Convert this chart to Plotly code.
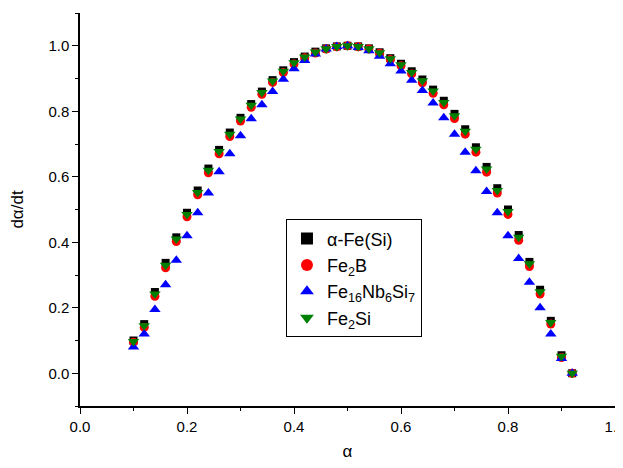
import plotly.graph_objects as go

alpha = [0.10, 0.12, 0.14, 0.16, 0.18, 0.20, 0.22, 0.24, 0.26, 0.28, 0.30, 0.32, 0.34, 0.36,
         0.38, 0.40, 0.42, 0.44, 0.46, 0.48, 0.50, 0.52, 0.54, 0.56, 0.58, 0.60, 0.62, 0.64,
         0.66, 0.68, 0.70, 0.72, 0.74, 0.76, 0.78, 0.80, 0.82, 0.84, 0.86, 0.88, 0.90, 0.92]

fe_si = [0.100, 0.150, 0.248, 0.337, 0.415, 0.490, 0.558, 0.625, 0.682, 0.735, 0.780, 0.822,
         0.860, 0.895, 0.925, 0.950, 0.967, 0.982, 0.992, 0.998, 1.000, 0.998, 0.992, 0.980,
         0.962, 0.945, 0.922, 0.897, 0.866, 0.832, 0.792, 0.745, 0.690, 0.630, 0.565, 0.500,
         0.422, 0.340, 0.255, 0.160, 0.055, 0.000]

fe2b = [0.095, 0.140, 0.235, 0.322, 0.402, 0.478, 0.545, 0.612, 0.670, 0.723, 0.770, 0.812,
        0.852, 0.888, 0.918, 0.944, 0.963, 0.978, 0.990, 0.997, 1.000, 0.997, 0.990, 0.977,
        0.958, 0.939, 0.914, 0.887, 0.855, 0.820, 0.778, 0.730, 0.675, 0.614, 0.550, 0.485,
        0.406, 0.326, 0.242, 0.150, 0.048, 0.000]

fe16nb6si7 = [0.080, 0.120, 0.195, 0.270, 0.345, 0.420, 0.490, 0.550, 0.615, 0.670, 0.725, 0.777,
              0.820, 0.860, 0.898, 0.930, 0.955, 0.975, 0.990, 0.998, 1.000, 0.995, 0.985, 0.968,
              0.945, 0.923, 0.895, 0.863, 0.825, 0.780, 0.730, 0.675, 0.618, 0.555, 0.490, 0.420,
              0.350, 0.278, 0.200, 0.120, 0.045, 0.000]

fe2si = [0.097, 0.145, 0.242, 0.330, 0.410, 0.485, 0.552, 0.620, 0.677, 0.730, 0.776, 0.818,
         0.857, 0.892, 0.922, 0.948, 0.966, 0.981, 0.991, 0.998, 1.000, 0.998, 0.991, 0.979,
         0.960, 0.942, 0.918, 0.893, 0.862, 0.827, 0.786, 0.739, 0.684, 0.624, 0.558, 0.494,
         0.415, 0.334, 0.249, 0.155, 0.052, 0.000]

font = "Liberation Sans, Arial, sans-serif"

fig = go.Figure()
fig.add_trace(go.Scatter(x=alpha, y=fe_si, mode="markers", name="α-Fe(Si)",
                         marker=dict(symbol="square", size=8, color="black")))
fig.add_trace(go.Scatter(x=alpha, y=fe2b, mode="markers", name="Fe<sub>2</sub>B",
                         marker=dict(symbol="circle", size=9, color="#ff0000")))
fig.add_trace(go.Scatter(x=alpha, y=fe16nb6si7, mode="markers",
                         name="Fe<sub>16</sub>Nb<sub>6</sub>Si<sub>7</sub>",
                         marker=dict(symbol="triangle-up", size=10, color="#0000ff")))
fig.add_trace(go.Scatter(x=alpha, y=fe2si, mode="markers", name="Fe<sub>2</sub>Si",
                         marker=dict(symbol="triangle-down", size=10, color="#008000")))

axis_common = dict(
    showline=True, linecolor="black", linewidth=1.5, mirror=False,
    showgrid=False, zeroline=False, automargin=False,
    ticks="outside", ticklen=6, tickwidth=1.2, tickcolor="black",
    ticklabeloverflow="allow",
    tickfont=dict(family=font, size=15, color="black"),
    minor=dict(ticks="outside", ticklen=3, tickwidth=1.2, tickcolor="black", dtick=0.1, showgrid=False),
)

fig.update_xaxes(range=[0, 1.0], dtick=0.2, tickformat=".1f",
                 title=dict(text="α", font=dict(family=font, size=17, color="black"), standoff=11),
                 **axis_common)
fig.update_yaxes(range=[-0.1, 1.1], dtick=0.2, tick0=0, tickformat=".1f",
                 title=dict(text="dα/dt", font=dict(family=font, size=17, color="black"), standoff=22),
                 **axis_common)

fig.update_layout(
    width=615, height=460,
    margin=dict(l=72, r=8, t=5, b=62),
    plot_bgcolor="white", paper_bgcolor="white",
    font=dict(family=font, size=16, color="black"),
    legend=dict(x=0.385, y=0.475, xanchor="left", yanchor="top",
                bordercolor="black", borderwidth=1, bgcolor="white",
                font=dict(family=font, size=18, color="black"),
                itemsizing="constant"),
    showlegend=True,
)

fig.write_html("out.html")
